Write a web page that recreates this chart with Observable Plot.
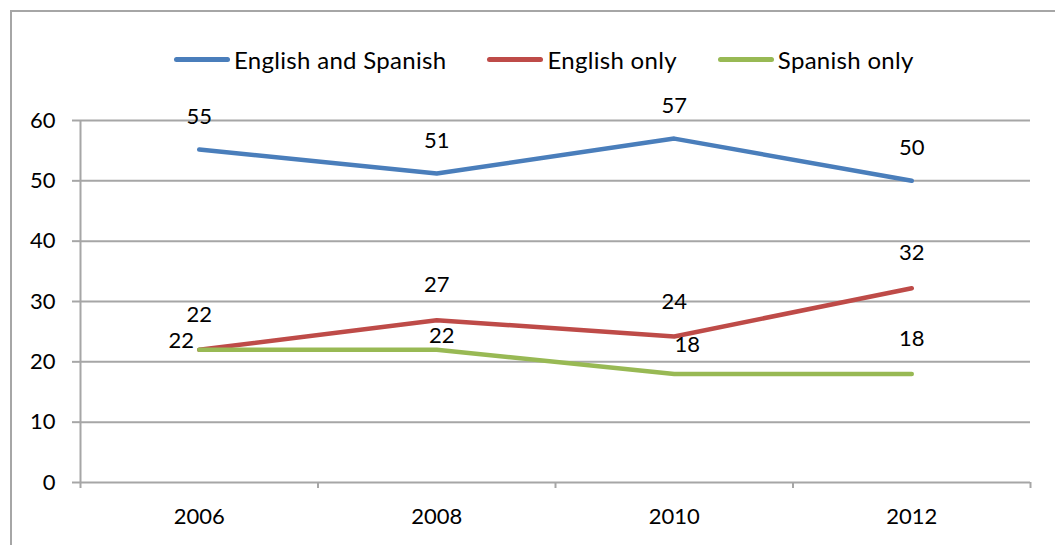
<!DOCTYPE html>
<html>
<head>
<meta charset="utf-8">
<script src="https://cdn.jsdelivr.net/npm/d3@7"></script>
<script src="https://cdn.jsdelivr.net/npm/@observablehq/plot@0.6"></script>
<style>
  html, body { margin: 0; padding: 0; background: #fff; }
  #wrap { position: relative; width: 1055px; height: 545px; overflow: hidden; font-family: Lato, "Open Sans", sans-serif; }
  #frame { position: absolute; left: 10px; top: 10px; width: 1100px; height: 600px; border-left: 2px solid #a6a6a6; border-top: 2px solid #a6a6a6; }
  #legend { position: absolute; top: 45px; left: 174px; display: flex; align-items: center; font-size: 24px; letter-spacing: 0.3px; color: #000; white-space: nowrap; }
  .item { display: flex; align-items: center; margin-right: 41px; }
  .sw { width: 56px; height: 5px; border-radius: 3px; margin-right: 4px; }
  #chart { position: absolute; left: 0; top: 0; }
</style>
</head>
<body>
<div id="wrap">
  <div id="frame"></div>
  <div id="chart"></div>
  <div id="legend"></div>
</div>
<script>
const years = [2006, 2008, 2010, 2012];
const series = ["English and Spanish", "English only", "Spanish only"];
const bothValues = [55.2, 51.2, 57.0, 50.0];
const englishValues = [22.0, 26.9, 24.2, 32.2];
const spanishValues = [22.0, 22.0, 18.0, 18.0];
const yTicks = [0, 10, 20, 30, 40, 50, 60];
const colors = ["#4a7ebb", "#be4b48", "#98b954"];

const valueSets = [bothValues, englishValues, spanishValues];
const rows = series.flatMap((s, si) => years.map((yr, i) => ({series: s, year: yr, value: valueSets[si][i]})));
const boundaries = [years[0] - 1, ...years.map(y => y + 1)];
const gridColor = "#a6a6a6";

// label nudges for the Spanish-only series (as placed in the original)
const spanishNudge = [[-18, -9], [5, -14], [13, -29], [0, -35]];

const labelOf = d => String(Math.round(d.value));

const marks = [
  Plot.gridY(yTicks, {stroke: gridColor, strokeOpacity: 1, strokeWidth: 2}),
  Plot.ruleX([boundaries[0]], {stroke: gridColor, strokeWidth: 2}),
  Plot.axisY({ticks: yTicks, tickSize: 8, tickPadding: 17, fontSize: 22, stroke: gridColor, strokeWidth: 2, color: "#000", label: null, tickFormat: d => String(d)}),
  Plot.axisX({ticks: boundaries, tickSize: 6, tickFormat: () => "", stroke: gridColor, strokeWidth: 2, label: null}),
  Plot.axisX({ticks: years, tickSize: 0, tickPadding: 26, fontSize: 22, tickFormat: d => String(d), color: "#000", label: null}),
  Plot.line(rows, {x: "year", y: "value", z: "series", stroke: "series", strokeWidth: 4.5, strokeLinecap: "round", strokeLinejoin: "round"}),
  Plot.text(rows.filter(d => d.series === series[0]), {x: "year", y: "value", text: labelOf, dy: -33, fontSize: 22, fill: "#000"}),
  Plot.text(rows.filter(d => d.series === series[1]), {x: "year", y: "value", text: labelOf, dy: -35, fontSize: 22, fill: "#000"}),
  ...years.map((yr, i) => Plot.text(rows.filter(d => d.series === series[2] && d.year === yr), {x: "year", y: "value", text: labelOf, dx: spanishNudge[i][0], dy: spanishNudge[i][1], fontSize: 22, fill: "#000"}))
];

const chart = Plot.plot({
  width: 1055,
  height: 545,
  marginTop: 120,
  marginBottom: 63,
  marginLeft: 80,
  marginRight: 25,
  style: {fontFamily: "Lato, 'Open Sans', sans-serif", background: "transparent", color: "#000"},
  x: {type: "linear", domain: [boundaries[0], boundaries[boundaries.length - 1]]},
  y: {domain: [0, 60]},
  color: {domain: series, range: colors},
  marks
});
document.getElementById("chart").appendChild(chart);

const legend = document.getElementById("legend");
series.forEach((s, i) => {
  const item = document.createElement("div");
  item.className = "item";
  const sw = document.createElement("div");
  sw.className = "sw";
  sw.style.background = colors[i];
  const t = document.createElement("span");
  t.textContent = s;
  item.appendChild(sw);
  item.appendChild(t);
  legend.appendChild(item);
});
</script>
</body>
</html>
